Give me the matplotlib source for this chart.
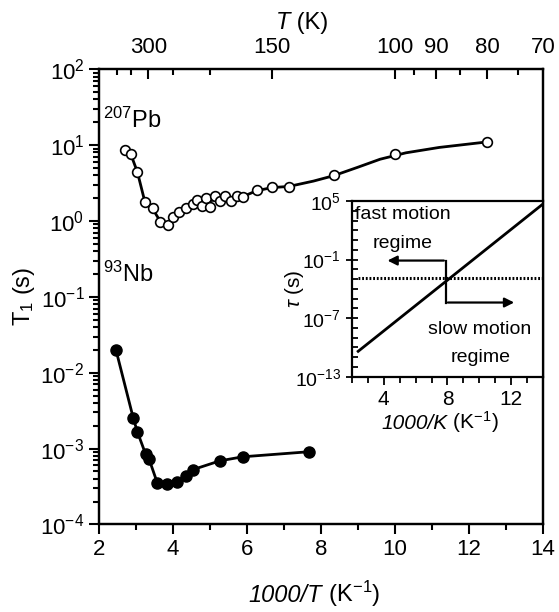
import numpy as np
import matplotlib
matplotlib.use('Agg')
import matplotlib.pyplot as plt
from matplotlib.ticker import FixedLocator, MultipleLocator, LogLocator, FuncFormatter, NullFormatter

plt.rcParams['font.family'] = ['Liberation Sans', 'DejaVu Sans']
plt.rcParams['mathtext.fontset'] = 'custom'
plt.rcParams['mathtext.rm'] = 'Liberation Sans'
plt.rcParams['mathtext.it'] = 'Liberation Sans:italic'
plt.rcParams['mathtext.default'] = 'regular'

# 207Pb T1 (open circles), x = 1000/T
pb_x = [2.70, 2.86, 3.04, 3.24, 3.47, 3.65, 3.86, 4.01, 4.17, 4.35, 4.55, 4.66, 4.78, 4.89,
        5.00, 5.14, 5.27, 5.42, 5.57, 5.72, 5.90, 6.26, 6.68, 7.14, 8.35, 10.0, 12.5]
pb_y = [8.6, 7.6, 4.35, 1.77, 1.46, 0.955, 0.88, 1.13, 1.31, 1.46, 1.65, 1.88, 1.57, 2.02,
        1.54, 2.12, 1.81, 2.16, 1.83, 2.12, 2.04, 2.52, 2.76, 2.8, 3.98, 7.7, 11.0]
# smooth guide line drawn through the Pb data
pb_fit_x = [2.70, 2.86, 3.04, 3.24, 3.47, 3.65, 3.86, 4.01, 4.35, 4.70, 5.00, 5.50, 5.90,
            6.26, 6.68, 7.14, 7.80, 8.35, 9.00, 9.60, 10.3, 11.2, 12.5]
pb_fit_y = [8.6, 7.6, 4.4, 1.8, 1.4, 1.0, 0.9, 1.1, 1.45, 1.7, 1.85, 2.0, 2.1,
            2.5, 2.75, 2.85, 3.35, 3.95, 5.1, 6.5, 7.9, 9.3, 11.0]

# 93Nb T1 (filled circles)
nb_x = [2.46, 2.93, 3.04, 3.26, 3.35, 3.58, 3.85, 4.10, 4.36, 4.55, 5.27, 5.89, 7.69]
nb_y = [2.0e-2, 2.5e-3, 1.66e-3, 8.5e-4, 7.4e-4, 3.5e-4, 3.4e-4, 3.6e-4, 4.4e-4, 5.3e-4,
        6.9e-4, 7.8e-4, 9.1e-4]

# top axis temperatures (K)
top_major_T = [300, 150, 100, 90, 80]
top_minor_T = [400, 350, 250, 200, 95, 85, 75]

# inset: correlation time line and threshold
tau_x = [2.41, 13.9]
tau_y = [10 ** -10.4, 10 ** 4.6]
tau_thr = 1.2e-3

fig = plt.figure(figsize=(5.59, 6.12), dpi=100)
ax = fig.add_axes([0.177, 0.143, 0.794, 0.744])

ax.plot(pb_fit_x, pb_fit_y, color='k', lw=2.0, zorder=2)
ax.plot(pb_x, pb_y, 'o', mfc='white', mec='k', mew=1.2, ms=7, zorder=3)
ax.plot(nb_x, nb_y, '-o', color='k', lw=2.0, ms=8, zorder=3)

ax.set_yscale('log')
ax.set_xlim(2, 14)
ax.set_ylim(1e-4, 1e2)
ax.xaxis.set_major_locator(MultipleLocator(2))
ax.xaxis.set_minor_locator(MultipleLocator(1))
ax.yaxis.set_major_locator(LogLocator(base=10, numticks=20))
ax.yaxis.set_minor_locator(LogLocator(base=10, subs=np.arange(2, 10), numticks=20))
ax.yaxis.set_minor_formatter(NullFormatter())
ax.yaxis.set_major_formatter(FuncFormatter(lambda v, p: '10$^{%d}$' % round(np.log10(v))))
ax.tick_params(which='both', direction='out', top=False, right=False, labelsize=16, width=1.5)
ax.tick_params(which='major', length=7)
ax.tick_params(which='minor', length=4)
for s in ax.spines.values():
    s.set_linewidth(1.6)

# bottom label: italic part + upright part
fig.text(0.576, 0.016, '1000/T', fontsize=17, style='italic', ha='right', va='baseline')
fig.text(0.576, 0.016, ' (K$^{-1}$)', fontsize=17, ha='left', va='baseline')
ax.set_ylabel('T$_1$ (s)', fontsize=17, labelpad=2)

ax.text(2.1, 17, '$^{207}$Pb', fontsize=17)
ax.text(2.1, 10 ** -0.8, '$^{93}$Nb', fontsize=17)

# top temperature axis
tx = ax.twiny()
tx.set_xlim(2, 14)
tx.xaxis.set_major_locator(FixedLocator([1000 / t for t in top_major_T]))
tx.xaxis.set_minor_locator(FixedLocator([1000 / t for t in top_minor_T]))
tx.set_xticklabels([str(t) for t in top_major_T])
tx.tick_params(which='both', direction='in', labelsize=16, width=1.5, pad=8)
tx.tick_params(which='major', length=7)
tx.tick_params(which='minor', length=4)
tx.text(14.0, 1.0 + 11.5 / 455, '70', transform=tx.get_xaxis_transform(), fontsize=16,
        ha='center', va='bottom', clip_on=False)
fig.text(0.519, 0.953, 'T', fontsize=17, style='italic', ha='right', va='baseline')
fig.text(0.519, 0.953, ' (K)', fontsize=17, ha='left', va='baseline')
for s in tx.spines.values():
    s.set_linewidth(1.6)

# inset
ins = fig.add_axes([0.629, 0.3845, 0.343, 0.287])
ins.plot(tau_x, tau_y, color='k', lw=2.0)
ins.plot([2.41, 14], [tau_thr, tau_thr], color='k', lw=2.2, ls=(0, (0.6, 0.6)))
ins.set_yscale('log')
ins.set_xlim(2, 14)
ins.set_ylim(1e-13, 1e5)
ins.xaxis.set_major_locator(FixedLocator([4, 8, 12]))
ins.xaxis.set_minor_locator(MultipleLocator(1))
ins.yaxis.set_major_locator(FixedLocator([1e-13, 1e-7, 1e-1, 1e5]))
ins.yaxis.set_minor_locator(FixedLocator([10.0 ** k for k in range(-13, 6)]))
ins.yaxis.set_minor_formatter(NullFormatter())
ins.yaxis.set_major_formatter(FuncFormatter(lambda v, p: '10$^{%d}$' % round(np.log10(v))))
ins.tick_params(axis='x', which='both', direction='out', labelsize=15, width=1.3)
ins.tick_params(axis='x', which='major', length=6)
ins.tick_params(axis='x', which='minor', length=4)
ins.tick_params(axis='y', which='major', direction='inout', length=8, width=1.3, labelsize=14)
ins.tick_params(axis='y', which='minor', direction='in', length=4, width=1.3)
for s in ins.spines.values():
    s.set_linewidth(1.6)
ins.text(0.5, -0.295, '1000/K', transform=ins.transAxes, fontsize=15, style='italic',
         ha='right', va='baseline')
ins.text(0.5, -0.295, ' (K$^{-1}$)', transform=ins.transAxes, fontsize=15,
         ha='left', va='baseline')
ins.set_ylabel('$\\mathit{\\tau}$ (s)', fontsize=15, labelpad=-8)

ins.text(2.2, 10 ** 3.6, 'fast motion', fontsize=14, va='center', ha='left')
ins.text(5.2, 10 ** 0.6, 'regime', fontsize=14, va='center', ha='center')
ins.text(10.0, 10 ** -8.2, 'slow motion', fontsize=14, va='center', ha='center')
ins.text(10.1, 10 ** -11.0, 'regime', fontsize=14, va='center', ha='center')

# arrows
ins.plot([7.9, 7.9], [tau_thr, 10 ** -1.1], color='k', lw=1.6)
ins.annotate('', xy=(4.07, 10 ** -1.1), xytext=(7.95, 10 ** -1.1),
             arrowprops=dict(arrowstyle='-|>', color='k', lw=1.6, mutation_scale=14))
ins.plot([7.9, 7.9], [tau_thr, 10 ** -5.4], color='k', lw=1.6)
ins.annotate('', xy=(12.35, 10 ** -5.4), xytext=(7.85, 10 ** -5.4),
             arrowprops=dict(arrowstyle='-|>', color='k', lw=1.6, mutation_scale=14))

fig.savefig('out.png', dpi=100)
